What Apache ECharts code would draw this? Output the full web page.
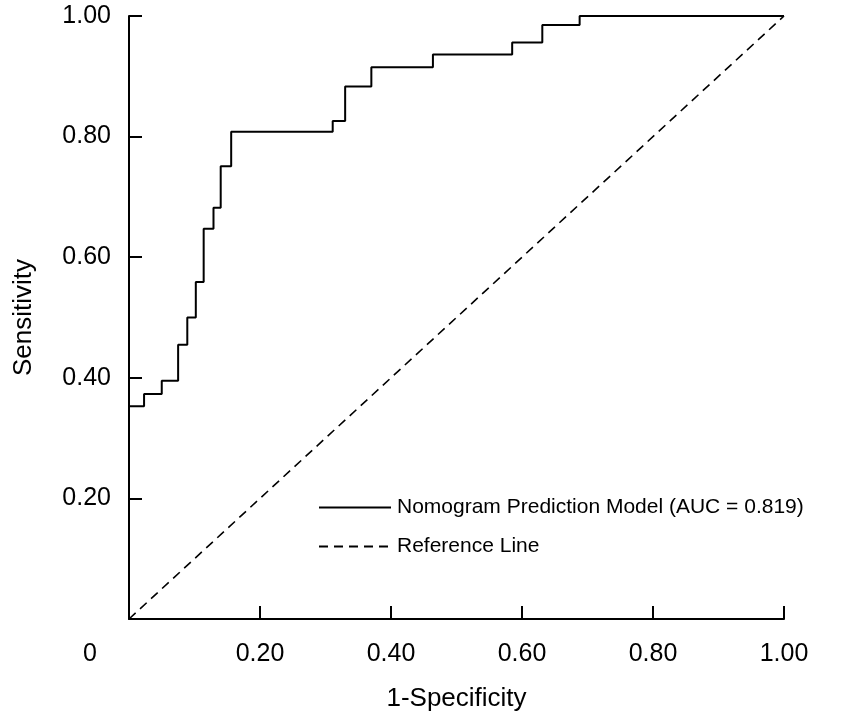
<!DOCTYPE html>
<html>
<head>
<meta charset="utf-8">
<script src="https://cdn.jsdelivr.net/npm/echarts@6/dist/echarts.min.js"></script>
<style>html,body{margin:0;padding:0;background:#fff;}#c{width:851px;height:722px;}</style>
</head>
<body>
<div id="c"></div>
<script>
// ROC curve: at each false-positive rate the sensitivity rises to the matching value
const fprSteps  = [0, 0.023, 0.050, 0.075, 0.089, 0.102, 0.114, 0.129, 0.140, 0.156, 0.311, 0.330, 0.370, 0.464, 0.585, 0.631, 0.688, 1.0];
const sensSteps = [0.353, 0.373, 0.395, 0.455, 0.500, 0.559, 0.647, 0.682, 0.751, 0.808, 0.826, 0.883, 0.915, 0.936, 0.956, 0.985, 1.0, 1.0];
const refLine = [[0, 0], [1, 1]];
const xTicks = [0, 0.2, 0.4, 0.6, 0.8, 1.0];
const yTicks = [0, 0.2, 0.4, 0.6, 0.8, 1.0];
const seriesNames = ['Nomogram Prediction Model (AUC = 0.819)', 'Reference Line'];
const xTitle = '1-Specificity';
const yTitle = 'Sensitivity';

const rocData = [[0, 0]].concat(fprSteps.map((f, i) => [f, sensSteps[i]]));

const FONT = '"Liberation Sans", Arial, sans-serif';
const chart = echarts.init(document.getElementById('c'), null, {renderer: 'canvas'});
chart.setOption({
  backgroundColor: '#fff',
  animation: false,
  textStyle: {fontFamily: FONT, color: '#000'},
  grid: {left: 129, right: 67, top: 16, bottom: 103, containLabel: false},
  legend: {
    orient: 'vertical', left: 313, top: 492,
    itemWidth: 72, itemHeight: 14, itemGap: 18,
    itemStyle: {opacity: 0},
    textStyle: {fontFamily: FONT, fontSize: 21, color: '#000', padding: [0, 0, 0, 1]},
    data: seriesNames
  },
  xAxis: {
    type: 'value', min: xTicks[0], max: xTicks[xTicks.length - 1], interval: 0.2,
    name: xTitle, nameLocation: 'middle', nameGap: 67,
    nameTextStyle: {fontFamily: FONT, fontSize: 26, color: '#000'},
    axisLine: {show: true, lineStyle: {color: '#000', width: 2}},
    axisTick: {show: true, inside: true, length: 13, lineStyle: {color: '#000', width: 2}},
    axisLabel: {
      fontFamily: FONT, fontSize: 25, color: '#000', margin: 23,
      formatter: v => v === 0 ? '{z|0}' : v.toFixed(2),
      rich: {z: {fontFamily: FONT, fontSize: 25, color: '#000', padding: [0, 78, 0, 0]}}
    },
    splitLine: {show: false}
  },
  yAxis: {
    type: 'value', min: yTicks[0], max: yTicks[yTicks.length - 1], interval: 0.2,
    name: yTitle, nameLocation: 'middle', nameGap: 92,
    nameTextStyle: {fontFamily: FONT, fontSize: 26, color: '#000'},
    axisLine: {show: true, lineStyle: {color: '#000', width: 2}},
    axisTick: {show: true, inside: true, length: 13, lineStyle: {color: '#000', width: 2}},
    axisLabel: {
      fontFamily: FONT, fontSize: 25, color: '#000', margin: 18,
      formatter: v => v === 0 ? '' : v.toFixed(2)
    },
    splitLine: {show: false}
  },
  series: [
    {
      name: seriesNames[0], type: 'line', step: 'end', data: rocData,
      symbol: 'none', lineStyle: {color: '#000', width: 2}, itemStyle: {color: '#000'}
    },
    {
      name: seriesNames[1], type: 'line', data: refLine,
      symbol: 'none', lineStyle: {color: '#000', width: 1.6, type: [9, 6]}, itemStyle: {color: '#000'}
    }
  ]
});
</script>
</body>
</html>
